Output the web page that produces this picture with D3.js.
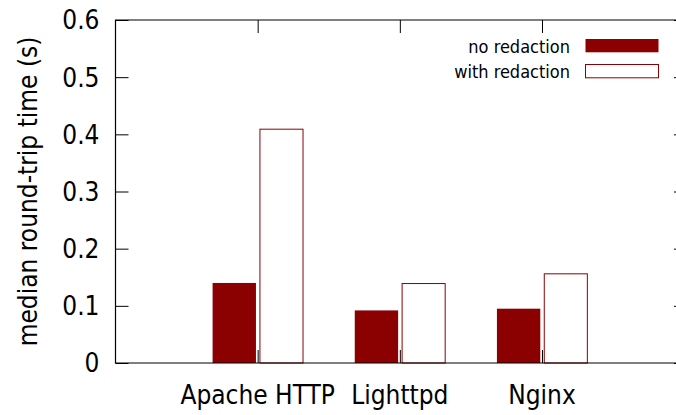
<!DOCTYPE html>
<html>
<head>
<meta charset="utf-8">
<script src="https://cdn.jsdelivr.net/npm/d3@7"></script>
<style>
  body { margin: 0; background: #fff; }
  text { font-family: "DejaVu Sans Condensed", "DejaVu Sans", sans-serif; font-stretch: condensed; fill: #000; }
</style>
</head>
<body>
<div id="chart"></div>
<script>
// Data
const servers = ['Apache HTTP', 'Lighttpd', 'Nginx'];
const noRedaction = [0.14, 0.092, 0.095];
const withRedaction = [0.409, 0.139, 0.156];
const yTicks = [0, 0.1, 0.2, 0.3, 0.4, 0.5, 0.6];
const seriesNames = ['no redaction', 'with redaction'];

const width = 676, height = 415;
const plotL = 115.5, plotT = 20, plotR = 687, plotB = 363;
const color = '#8b0000';

const svg = d3.select('#chart')
    .append('svg')
    .attr('width', width)
    .attr('height', height);

// Scales (categories sit at 0, 1, 2 on a numeric x axis, gnuplot style)
const x = d3.scaleLinear().domain([-1, 3.02]).range([plotL, plotR]);
const y = d3.scaleLinear().domain([0, 0.6]).range([plotB, plotT]);

// Bars
svg.append('g')
    .selectAll('rect')
    .data(noRedaction)
    .enter()
    .append('rect')
    .attr('x', (d, i) => x(i - 0.317))
    .attr('width', x(0.305) - x(0))
    .attr('y', d => y(d))
    .attr('height', d => y(0) - y(d))
    .attr('fill', color);

svg.append('g')
    .selectAll('rect')
    .data(withRedaction)
    .enter()
    .append('rect')
    .attr('x', (d, i) => x(i + 0.016))
    .attr('width', x(0.303) - x(0))
    .attr('y', d => y(d))
    .attr('height', d => y(0) - y(d))
    .attr('fill', 'none')
    .attr('stroke', color)
    .attr('stroke-width', 1);

// Y axis, ticks pointing inward
const yAxis = svg.append('g')
    .attr('transform', `translate(${plotL},0)`)
    .call(d3.axisRight(y).tickValues(yTicks).tickSize(13).tickFormat(''));
yAxis.select('.domain').remove();

// mirrored ticks on the right border (mostly off canvas)
const yAxisR = svg.append('g')
    .attr('transform', `translate(${plotR},0)`)
    .call(d3.axisLeft(y).tickValues(yTicks).tickSize(13).tickFormat(''));
yAxisR.select('.domain').remove();

// y tick labels
svg.append('g')
    .selectAll('text')
    .data(yTicks)
    .enter()
    .append('text')
    .attr('x', plotL - 16)
    .attr('y', d => y(d))
    .attr('dy', '0.36em')
    .attr('text-anchor', 'end')
    .style('font-size', '26px')
    .text(d => d === 0 ? '0' : d3.format('.1f')(d));

// X ticks bottom and top, inward
const xb = svg.append('g')
    .attr('transform', `translate(0,${plotB})`)
    .call(d3.axisTop(x).tickValues([0, 1, 2]).tickSize(13).tickFormat(''));
xb.select('.domain').remove();
const xt = svg.append('g')
    .attr('transform', `translate(0,${plotT})`)
    .call(d3.axisBottom(x).tickValues([0, 1, 2]).tickSize(13).tickFormat(''));
xt.select('.domain').remove();

// x labels
svg.append('g')
    .selectAll('text')
    .data(servers)
    .enter()
    .append('text')
    .attr('x', (d, i) => x(i))
    .attr('y', plotB + 40.5)
    .attr('text-anchor', 'middle')
    .style('font-size', '26px')
    .text(d => d);

// Border (left, bottom, top)
svg.append('path')
    .attr('d', `M${plotR},${plotT}H${plotL}V${plotB}H${plotR}`)
    .attr('fill', 'none')
    .attr('stroke', '#000')
    .attr('stroke-width', 1.2);

// Y axis title
svg.append('text')
    .attr('transform', `translate(37,${(plotT + plotB) / 2}) rotate(-90)`)
    .attr('text-anchor', 'middle')
    .style('font-size', '26px')
    .text('median round-trip time (s)');

// Legend
const legend = svg.append('g');
const rows = [
    { name: seriesNames[0], fill: color, stroke: 'none' },
    { name: seriesNames[1], fill: 'none', stroke: color }
];
legend.selectAll('text')
    .data(rows)
    .enter()
    .append('text')
    .attr('x', 570)
    .attr('y', (d, i) => 53 + i * 25.3)
    .attr('text-anchor', 'end')
    .style('font-size', '18px')
    .text(d => d.name);
legend.selectAll('rect')
    .data(rows)
    .enter()
    .append('rect')
    .attr('x', 585.5)
    .attr('y', (d, i) => 39 + i * 25.5)
    .attr('width', 73)
    .attr('height', 13.3)
    .attr('fill', d => d.fill)
    .attr('stroke', d => d.stroke);
</script>
</body>
</html>
